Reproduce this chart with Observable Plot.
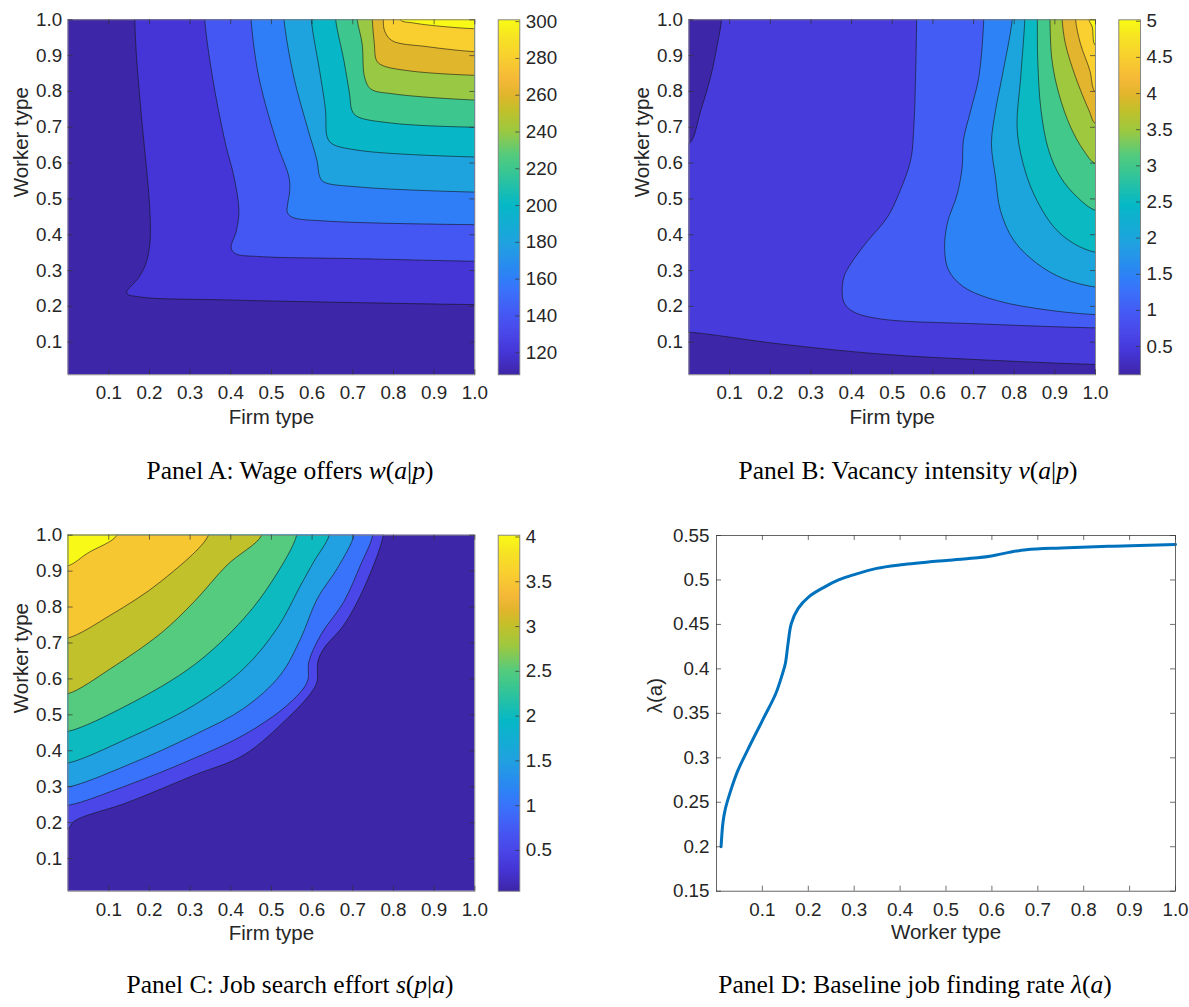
<!DOCTYPE html>
<html><head><meta charset="utf-8">
<script src="https://cdn.jsdelivr.net/npm/d3@7"></script>
<script src="https://cdn.jsdelivr.net/npm/@observablehq/plot@0.6"></script>
<style>
body{margin:0;background:#fff;}
#root{position:relative;width:1189px;height:1007px;overflow:hidden;background:#fff;}
#root svg{position:absolute;}
.cap{position:absolute;width:640px;text-align:center;font-family:"Liberation Serif","DejaVu Serif",serif;font-size:25.5px;color:#000;line-height:30px;white-space:nowrap;}
</style></head><body><div id="root"></div>
<script>
// ---------- DATA ----------
const typeTicks = [0.1,0.2,0.3,0.4,0.5,0.6,0.7,0.8,0.9,1.0];

// Panel A: wage offers w(a|p) — contour lines (firm type, worker type), from top edge to right edge
const wageLevels = [120,140,160,180,200,220,240,260,280,300];
const wageRange = [108, 301];
const wageTicks = [120,140,160,180,200,220,240,260,280,300];
const wageContours = [
  [[0.164,1],[0.168,0.90],[0.179,0.747],[0.201,0.468],[0.201,0.375],[0.191,0.319],[0.174,0.281],[0.144,0.237],[0.179,0.226],[0.391,0.218],[0.637,0.212],[1,0.205]],
  [[0.336,1],[0.355,0.840],[0.387,0.654],[0.408,0.561],[0.420,0.468],[0.414,0.412],[0.401,0.363],[0.412,0.347],[0.473,0.339],[0.718,0.333],[1,0.326]],
  [[0.450,1],[0.469,0.840],[0.514,0.654],[0.543,0.561],[0.545,0.523],[0.540,0.486],[0.539,0.463],[0.551,0.449],[0.637,0.438],[1,0.428]],
  [[0.531,1],[0.555,0.840],[0.588,0.701],[0.612,0.607],[0.619,0.561],[0.629,0.547],[0.718,0.533],[1,0.519]],
  [[0.598,1],[0.621,0.840],[0.633,0.747],[0.637,0.673],[0.649,0.654],[0.718,0.635],[1,0.617]],
  [[0.658,1],[0.678,0.887],[0.692,0.793],[0.698,0.747],[0.711,0.730],[0.801,0.711],[1,0.700]],
  [[0.711,1],[0.723,0.933],[0.729,0.840],[0.744,0.807],[0.801,0.793],[1,0.776]],
  [[0.748,1],[0.753,0.933],[0.758,0.887],[0.772,0.873],[0.842,0.857],[1,0.845]],
  [[0.775,1],[0.778,0.970],[0.796,0.942],[0.883,0.925],[1,0.911]],
  [[0.817,1],[0.850,0.991],[0.924,0.981],[1,0.975]]
];

// Panel B: vacancy intensity v(a|p)
const vacLevels = [0.5,1,1.5,2,2.5,3,3.5,4,4.5,5];
const vacRange = [0.11, 5.02];
const vacTicks = [0.5,1,1.5,2,2.5,3,3.5,4,4.5,5];
const vacLowBottom = [[0,0.128],[0.225,0.095],[0.471,0.067],[0.717,0.051],[1,0.038]];
const vacLowCorner = [[0.080,1],[0.070,0.933],[0.053,0.840],[0.029,0.747],[0,0.654]];
const vacContours = [
  [[0.560,1],[0.553,0.700],[0.545,0.607],[0.516,0.514],[0.488,0.449],[0.434,0.375],[0.398,0.319],[0.381,0.282],[0.377,0.235],[0.383,0.207],[0.406,0.184],[0.471,0.165],[0.717,0.151],[1,0.140]],
  [[0.725,1],[0.713,0.840],[0.693,0.747],[0.675,0.663],[0.672,0.589],[0.660,0.514],[0.635,0.430],[0.629,0.356],[0.639,0.300],[0.676,0.254],[0.758,0.216],[0.881,0.190],[1,0.177]],
  [[0.795,1],[0.770,0.840],[0.754,0.747],[0.744,0.654],[0.754,0.561],[0.766,0.468],[0.799,0.384],[0.857,0.319],[0.922,0.277],[1,0.254]],
  [[0.826,1],[0.816,0.840],[0.807,0.700],[0.820,0.607],[0.848,0.514],[0.898,0.421],[0.947,0.375],[1,0.351]],
  [[0.857,1],[0.858,0.887],[0.866,0.747],[0.885,0.635],[0.914,0.561],[0.955,0.505],[1,0.468]],
  [[0.888,1],[0.893,0.887],[0.910,0.793],[0.939,0.700],[0.971,0.635],[1,0.598]],
  [[0.918,1],[0.926,0.933],[0.951,0.840],[0.984,0.747],[1,0.710]],
  [[0.951,1],[0.963,0.933],[0.986,0.859],[1,0.798]],
  [[0.984,1],[0.992,0.980],[1,0.928]]
];

// Panel C: job search effort s(p|a) — contour lines from left edge to top edge
const effortLevels = [0.5,1,1.5,2,2.5,3,3.5,4];
const effortRange = [0.045, 4.02];
const effortTicks = [0.5,1,1.5,2,2.5,3,3.5,4];
const effortContours = [
  [[0,0.183],[0.015,0.204],[0.146,0.256],[0.310,0.332],[0.432,0.388],[0.539,0.490],[0.596,0.559],[0.612,0.592],[0.614,0.648],[0.629,0.685],[0.678,0.750],[0.727,0.852],[0.775,1]],
  [[0,0.248],[0.146,0.304],[0.310,0.379],[0.432,0.444],[0.539,0.527],[0.588,0.592],[0.592,0.648],[0.621,0.722],[0.678,0.815],[0.719,0.917],[0.749,1]],
  [[0,0.299],[0.146,0.360],[0.310,0.444],[0.432,0.518],[0.522,0.611],[0.572,0.713],[0.613,0.824],[0.662,0.908],[0.703,1]],
  [[0,0.366],[0.146,0.434],[0.310,0.527],[0.432,0.629],[0.514,0.741],[0.572,0.861],[0.604,0.926],[0.642,1]],
  [[0,0.454],[0.146,0.527],[0.310,0.639],[0.432,0.768],[0.506,0.880],[0.562,1]],
  [[0,0.559],[0.105,0.629],[0.228,0.727],[0.310,0.815],[0.391,0.917],[0.476,1]],
  [[0,0.714],[0.105,0.778],[0.228,0.871],[0.345,1]],
  [[0,0.915],[0.048,0.950],[0.120,1]]
];

// Panel D: baseline job finding rate λ(a)
const workerType = [0.01,0.014,0.019,0.029,0.046,0.068,0.101,0.129,0.144,0.150,0.156,0.163,0.178,0.201,0.235,0.266,0.300,0.349,0.402,0.501,0.569,0.599,0.637,0.675,0.751,0.865,1.0];
const findingRate = [0.200,0.227,0.242,0.260,0.285,0.309,0.343,0.372,0.395,0.406,0.429,0.451,0.468,0.481,0.492,0.500,0.506,0.513,0.517,0.522,0.525,0.527,0.531,0.534,0.536,0.538,0.540];
const rateTicks = [0.15,0.2,0.25,0.3,0.35,0.4,0.45,0.5,0.55];

// parula-like colormap stops
const parulaT = [0,0.062,0.114,0.17,0.24,0.28,0.37,0.48,0.585,0.62,0.69,0.75,0.79,0.83,0.90,0.95,1];
const parulaC = ["#3e26a8","#4535d6","#4a46e8","#4558f3","#3a73fb","#2d82f6","#20a2e0","#06b8c6","#40c88c","#55cb7e","#9fc83e","#c5c02a","#e2b52d","#f5b838","#f9d22e","#f6e324","#f9fb15"];

// ---------- HELPERS ----------
const FONT = "'Liberation Sans', Arial, Helvetica, sans-serif";
const TICKFONT = "18.8px";
const LABELFONT = 20.5;
const YMIN = 0.009;
const PAD = 0.04;
const root = document.getElementById("root");

function colorScale([lo, hi]) {
  return {type: "linear", domain: parulaT.map(t => lo + t * (hi - lo)), range: parulaC, interpolate: "rgb"};
}
function topRight(c) { const f = c[0], l = c[c.length - 1]; return [[f[0], 1 + PAD], ...c, [1 + PAD, l[1]], [1 + PAD, 1 + PAD]]; }
function leftTop(c) { const f = c[0], l = c[c.length - 1]; return [[-PAD, f[1]], ...c, [l[0], 1 + PAD], [-PAD, 1 + PAD]]; }
function toRows(levels, polys) { return polys.flatMap((p, i) => p.map(([x, y]) => ({level: levels[i], x, y}))); }
function place(svg, left, top) { svg.style.position = "absolute"; svg.style.left = left + "px"; svg.style.top = top + "px"; root.appendChild(svg); }
const fmt1 = d3.format(".1f");
const fmtShort = d => String(Math.round(d * 100) / 100);

function frameMarks(W, H, xTicks, yTicks, xFmt, yFmt, xLabel, yLabel, opts = {}) {
  const tk = {stroke: "#333", strokeWidth: 0.7};
  return [
    Plot.frame({stroke: opts.frameStroke ?? "#7d7d7d", strokeWidth: 0.9}),
    Plot.tickX(xTicks, {...tk, insetTop: H - 5}),
    Plot.tickX(xTicks, {...tk, insetBottom: H - 5}),
    Plot.tickY(yTicks, {...tk, insetLeft: W - 5}),
    Plot.tickY(yTicks, {...tk, insetRight: W - 5}),
    Plot.axisX(xTicks, {tickSize: 0, tickPadding: 11, tickFormat: xFmt, label: null}),
    Plot.axisY(yTicks, {tickSize: 0, tickPadding: opts.yPad ?? 6, tickFormat: yFmt, label: null}),
    Plot.text([xLabel], {frameAnchor: "bottom", dy: opts.xLabelDy ?? 49, fontSize: LABELFONT}),
    Plot.text([yLabel], {frameAnchor: "left", dx: opts.yLabelDx ?? -47, rotate: -90, fontSize: LABELFONT})
  ];
}

function contourPanel({left, top, width, height, frame, range, rows, xLabel, yLabel}) {
  const [fx0, fy0, fx1, fy1] = frame;
  const W = fx1 - fx0, H = fy1 - fy0;
  const svg = Plot.plot({
    width, height,
    marginLeft: fx0 - left, marginRight: left + width - fx1, marginTop: fy0 - top, marginBottom: top + height - fy1,
    style: {fontFamily: FONT, fontSize: TICKFONT, color: "#262626", background: "transparent", overflow: "visible"},
    x: {domain: [0, 1]}, y: {domain: [YMIN, 1]},
    color: colorScale(range),
    marks: [
      Plot.rect([range[0]], {x1: 0, x2: 1, y1: YMIN, y2: 1, fill: d => d}),
      Plot.line(rows, {x: "x", y: "y", z: "level", fill: "level", stroke: "#141414", strokeWidth: 0.6, curve: "catmull-rom", clip: true}),
      ...frameMarks(W, H, typeTicks, typeTicks, fmt1, fmt1, xLabel, yLabel)
    ]
  });
  place(svg, left, top);
}

function colorbar({left, top, width, height, frame, range, ticks}) {
  const [fx0, fy0, fx1, fy1] = frame;
  const W = fx1 - fx0;
  const svg = Plot.plot({
    width, height,
    marginLeft: fx0 - left, marginRight: left + width - fx1, marginTop: fy0 - top, marginBottom: top + height - fy1,
    style: {fontFamily: FONT, fontSize: TICKFONT, color: "#262626", background: "transparent", overflow: "visible"},
    x: {domain: [0, 1], axis: null}, y: {domain: range, axis: null},
    color: colorScale(range),
    marks: [
      Plot.raster({x1: 0, x2: 1, y1: range[0], y2: range[1], width: 1, height: 256, fill: (x, y) => y}),
      Plot.frame({stroke: "#7d7d7d", strokeWidth: 0.9}),
      Plot.tickY(ticks, {stroke: "#333", strokeWidth: 0.7, insetLeft: W - 4}),
      Plot.axisY(ticks, {anchor: "right", tickSize: 0, tickPadding: 6, tickFormat: fmtShort, label: null})
    ]
  });
  place(svg, left, top);
}

// ---------- PANELS ----------
contourPanel({left: 0, top: 0, width: 480, height: 440, frame: [67.6, 19.3, 474.3, 374.3], range: wageRange,
  rows: toRows(wageLevels, wageContours.map(topRight)), xLabel: "Firm type", yLabel: "Worker type"});
colorbar({left: 488, top: 0, width: 80, height: 440, frame: [497.7, 19.3, 519.3, 374.3], range: wageRange, ticks: wageTicks});

const vacLowPoly = [[-PAD, vacLowBottom[0][1]], ...vacLowBottom, [1 + PAD, vacLowBottom[vacLowBottom.length - 1][1]], [1 + PAD, 1 + PAD],
  [vacLowCorner[0][0], 1 + PAD], ...vacLowCorner, [-PAD, vacLowCorner[vacLowCorner.length - 1][1]]];
contourPanel({left: 620, top: 0, width: 480, height: 440, frame: [688.5, 19.3, 1095, 374.3], range: vacRange,
  rows: toRows(vacLevels, [vacLowPoly, ...vacContours.map(topRight)]), xLabel: "Firm type", yLabel: "Worker type"});
colorbar({left: 1108, top: 0, width: 81, height: 440, frame: [1118.3, 19.3, 1140, 374.3], range: vacRange, ticks: vacTicks});

contourPanel({left: 0, top: 515, width: 480, height: 440, frame: [67.6, 534.7, 474.3, 890.7], range: effortRange,
  rows: toRows(effortLevels, effortContours.map(leftTop)), xLabel: "Firm type", yLabel: "Worker type"});
colorbar({left: 488, top: 515, width: 80, height: 440, frame: [497.7, 534.7, 519.3, 890.7], range: effortRange, ticks: effortTicks});

(function () {
  const left = 620, top = 515, width = 569, height = 440;
  const fx0 = 716, fy0 = 535, fx1 = 1175, fy1 = 890.7;
  const rows = workerType.map((x, i) => ({x, y: findingRate[i]}));
  const svg = Plot.plot({
    width, height,
    marginLeft: fx0 - left, marginRight: left + width - fx1, marginTop: fy0 - top, marginBottom: top + height - fy1,
    style: {fontFamily: FONT, fontSize: TICKFONT, color: "#262626", background: "transparent", overflow: "visible"},
    x: {domain: [0, 1]}, y: {domain: [0.15, 0.55]},
    marks: [
      Plot.line(rows, {x: "x", y: "y", stroke: "#0072bd", strokeWidth: 3, curve: "catmull-rom"}),
      ...frameMarks(fx1 - fx0, fy1 - fy0, typeTicks, rateTicks, fmt1, fmtShort, "Worker type", "λ(a)",
        {frameStroke: "#555", yPad: 7, xLabelDy: 48, yLabelDx: -61})
    ]
  });
  place(svg, left, top);
})();

// ---------- CAPTIONS ----------
const captions = [
  {cx: 290, cy: 471, html: "Panel A: Wage offers <i>w</i>(<i>a</i>|<i>p</i>)"},
  {cx: 908, cy: 471, html: "Panel B: Vacancy intensity <i>v</i>(<i>a</i>|<i>p</i>)"},
  {cx: 290, cy: 985, html: "Panel C: Job search effort <i>s</i>(<i>p</i>|<i>a</i>)"},
  {cx: 915, cy: 985, html: "Panel D: Baseline job finding rate <i>λ</i>(<i>a</i>)"}
];
for (const c of captions) {
  const d = document.createElement("div");
  d.className = "cap";
  d.style.left = (c.cx - 320) + "px";
  d.style.top = (c.cy - 15) + "px";
  d.innerHTML = c.html;
  root.appendChild(d);
}
</script></body></html>
